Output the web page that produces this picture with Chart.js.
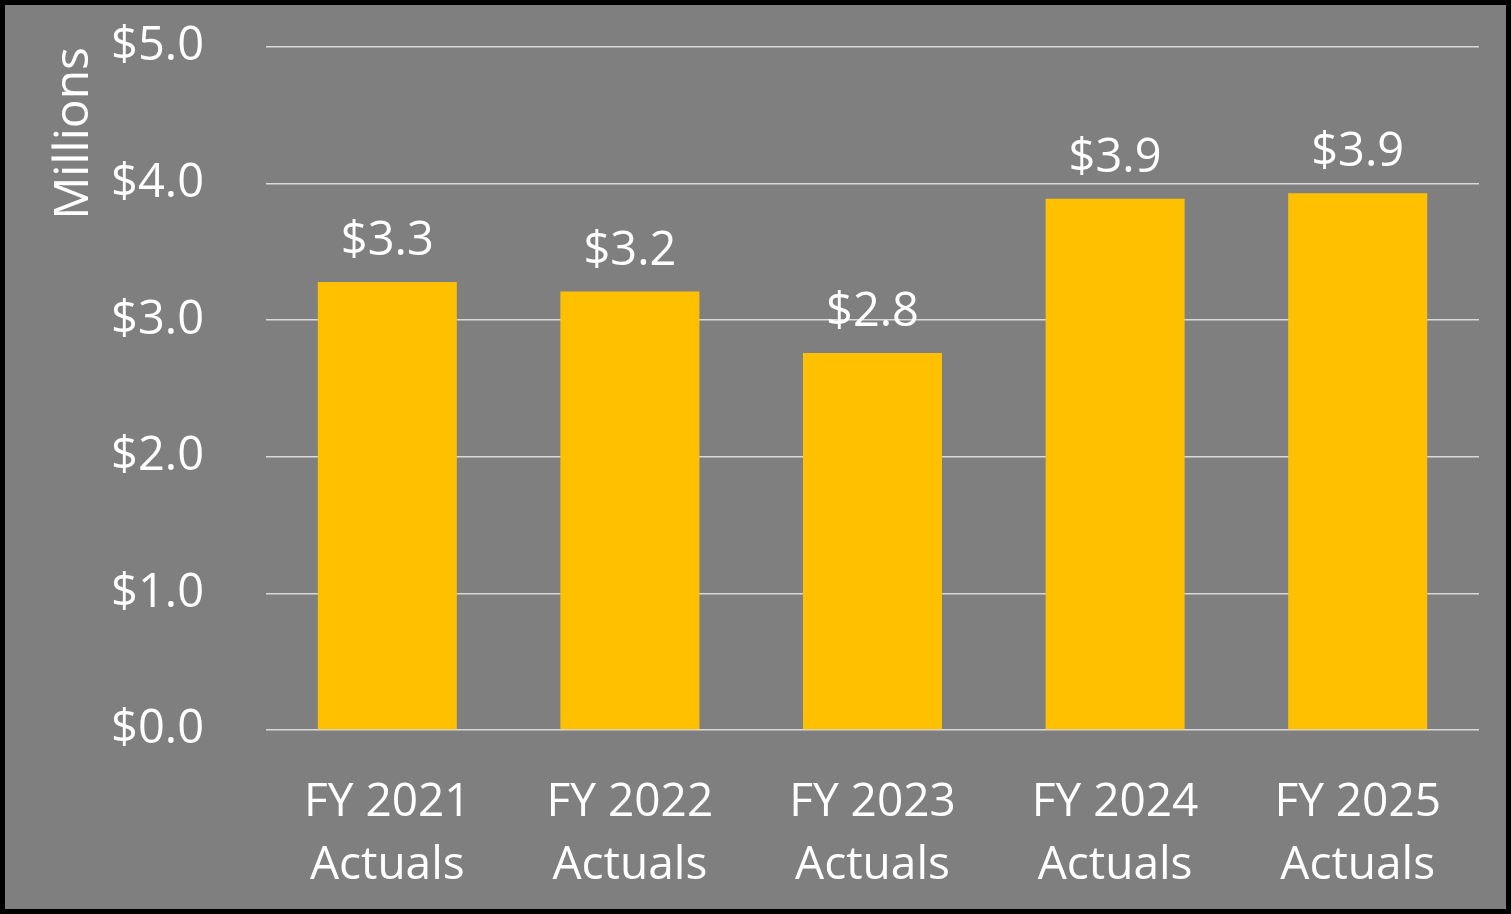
<!DOCTYPE html>
<html>
<head>
<meta charset="utf-8">
<script src="https://cdn.jsdelivr.net/npm/chart.js@4"></script>
<style>
  body { margin: 0; background: #fff; }
  #box { width: 1511px; height: 914px; box-sizing: border-box; border: 5px solid #000; background: #7f7f7f; }
  #myChart { display: block; }
</style>
</head>
<body>
<div id="box"><canvas id="myChart" width="1501" height="904"></canvas></div>
<script>
// data
var years = [['FY 2021', 'Actuals'], ['FY 2022', 'Actuals'], ['FY 2023', 'Actuals'], ['FY 2024', 'Actuals'], ['FY 2025', 'Actuals']];
var actuals = [3.28, 3.21, 2.76, 3.89, 3.93];
var yTicks = [0, 1, 2, 3, 4, 5];

var fontName = "'Open Sans', sans-serif";

// labels above bars
var barLabels = {
  id: 'barLabels',
  afterDatasetsDraw: function(chart) {
    var ctx = chart.ctx;
    var meta = chart.getDatasetMeta(0);
    ctx.save();
    ctx.font = '47px ' + fontName;
    ctx.fillStyle = '#ffffff';
    ctx.textAlign = 'center';
    ctx.textBaseline = 'alphabetic';
    for (var i = 0; i < meta.data.length; i++) {
      var bar = meta.data[i];
      ctx.fillText('$' + actuals[i].toFixed(1), bar.x, bar.y - 27);
    }
    ctx.restore();
  }
};

var ctx = document.getElementById('myChart');
var myChart = new Chart(ctx, {
  type: 'bar',
  data: {
    labels: years,
    datasets: [
      {
        data: actuals,
        backgroundColor: '#ffc000',
        barPercentage: 0.573,
        categoryPercentage: 1
      }
    ]
  },
  options: {
    responsive: false,
    animation: false,
    layout: { padding: { left: 41, right: 27, top: 42, bottom: 10 } },
    plugins: {
      legend: { display: false },
      tooltip: { enabled: false }
    },
    scales: {
      x: {
        grid: { display: false },
        border: { display: false },
        afterFit: function(axis) {
          axis.height = 169;
          axis.paddingLeft = 0;
          axis.paddingRight = 0;
        },
        ticks: {
          color: '#ffffff',
          padding: 33,
          font: { family: fontName, size: 46, lineHeight: 1.38 },
          maxRotation: 0
        }
      },
      y: {
        min: 0,
        max: 5,
        afterBuildTicks: function(axis) {
          axis.ticks = yTicks.map(function(v) { return { value: v }; });
        },
        afterFit: function(axis) {
          axis.width = 220;
          axis.paddingTop = 0;
          axis.paddingBottom = 0;
        },
        grid: { color: '#d9d9d9', lineWidth: 1.5, drawTicks: false },
        border: { display: false },
        ticks: {
          color: '#ffffff',
          padding: 62,
          font: { family: fontName, size: 47 },
          callback: function(v) { return '$' + Number(v).toFixed(1); }
        },
        title: {
          display: true,
          text: 'Millions',
          align: 'end',
          color: '#ffffff',
          font: { family: fontName, size: 48 },
          padding: { top: 0, bottom: 9 }
        }
      }
    }
  },
  plugins: [barLabels]
});
</script>
</body>
</html>
